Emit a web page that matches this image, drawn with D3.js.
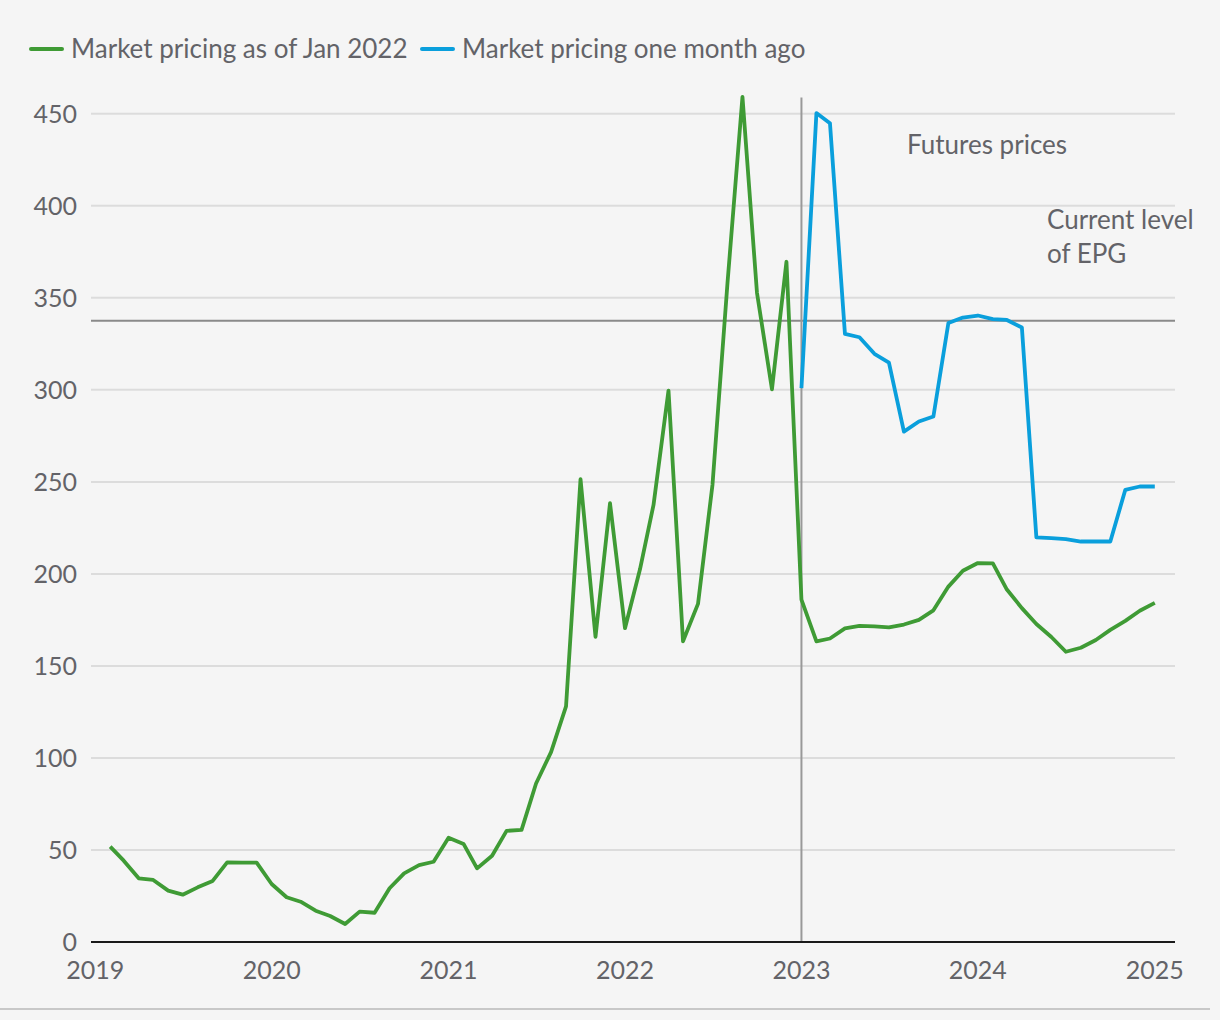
<!DOCTYPE html>
<html>
<head>
<meta charset="utf-8">
<script src="https://cdn.jsdelivr.net/npm/d3@7"></script>
<style>
  html, body { margin: 0; padding: 0; background: #f5f5f5; }
  text { font-family: Lato, "Open Sans", sans-serif; }
</style>
</head>
<body>
<div id="chart"></div>
<script>
var W = 1220, H = 1020;

// months since Jan 2019 (1 = Feb 2019)
var greenMonths = d3.range(1, 73);
var greenValues = [
  51.8, 44.2, 34.6, 33.7, 27.9, 25.7, 29.7, 33.2, 43.3, 43.1, 43.1,
  31.5, 24.3, 21.9, 17.0, 14.1, 9.8, 16.5, 15.9, 29.2, 37.3, 41.8, 43.6,
  56.7, 53.3, 40.0, 46.9, 60.4, 60.9, 86.1, 103.2, 128.0, 251.5, 165.8, 238.4, 170.5,
  202.5, 237.5, 299.6, 163.4, 183.7, 248.5, 358, 459.2, 352.8, 300.3, 369.6, 186,
  163.4, 164.9, 170.4, 171.8, 171.5, 170.9, 172.5, 175.0, 180.2, 193.1, 201.7, 205.9,
  205.7, 191.5, 181.4, 172.8, 165.7, 157.7, 159.9, 164.1, 169.6, 174.5, 180.0, 184.3
];
var blueMonths = d3.range(48, 73);
var blueValues = [
  300.9, 450.4, 444.9, 330.4, 328.6, 319.6, 314.8, 277.3, 282.8, 285.5, 336.3, 339.3,
  340.4, 338.4, 338.0, 333.9, 219.9, 219.4, 218.9, 217.6, 217.6, 217.6, 245.7, 247.5, 247.5
];
var epgLevel = 337.5;
var futuresStart = new Date(2023, 0, 1);
var yTicks = [0, 50, 100, 150, 200, 250, 300, 350, 400, 450];
var xTickYears = [2019, 2020, 2021, 2022, 2023, 2024, 2025];

var green = "#3f9b35";
var blue = "#0a9fdc";
var textGrey = "#636368";

var plotLeft = 91, plotRight = 1175;

var x = d3.scaleTime()
  .domain([new Date(2019, 0, 1), new Date(2025, 0, 1)])
  .range([95.2, 1154.8]);
var y = d3.scaleLinear().domain([0, 450]).range([942, 113.8]);

var svg = d3.select("#chart").append("svg")
  .attr("width", W)
  .attr("height", H);

svg.append("rect")
  .attr("width", W)
  .attr("height", H)
  .attr("fill", "#f5f5f5");

// gridlines
svg.append("g").selectAll("line")
  .data(yTicks.filter(d => d > 0))
  .enter()
  .append("line")
  .attr("x1", plotLeft)
  .attr("x2", plotRight)
  .attr("y1", d => y(d))
  .attr("y2", d => y(d))
  .attr("stroke", "#dcdcdc")
  .attr("stroke-width", 2);

// y tick labels
svg.append("g").selectAll("text")
  .data(yTicks)
  .enter()
  .append("text")
  .attr("x", 77)
  .attr("y", d => y(d))
  .attr("dy", "0.36em")
  .attr("text-anchor", "end")
  .style("font-size", "25px")
  .attr("fill", textGrey)
  .text(d => d);

// x tick labels
svg.append("g").selectAll("text")
  .data(xTickYears)
  .enter()
  .append("text")
  .attr("x", d => x(new Date(d, 0, 1)))
  .attr("y", 979)
  .attr("text-anchor", "middle")
  .style("font-size", "25px")
  .attr("fill", textGrey)
  .text(d => d);

// EPG level line
svg.append("line")
  .attr("x1", plotLeft)
  .attr("x2", plotRight)
  .attr("y1", y(epgLevel))
  .attr("y2", y(epgLevel))
  .attr("stroke", "#8a8a8a")
  .attr("stroke-width", 2);

// futures divider
svg.append("line")
  .attr("x1", x(futuresStart))
  .attr("x2", x(futuresStart))
  .attr("y1", 97.5)
  .attr("y2", y(0))
  .attr("stroke", "#999")
  .attr("stroke-width", 2);

var line = d3.line()
  .x(d => x(new Date(2019, d[0], 1)))
  .y(d => y(d[1]));

svg.append("path")
  .datum(d3.zip(greenMonths, greenValues))
  .attr("d", line)
  .attr("fill", "none")
  .attr("stroke", green)
  .attr("stroke-width", 3.8)
  .attr("stroke-linejoin", "round");

svg.append("path")
  .datum(d3.zip(blueMonths, blueValues))
  .attr("d", line)
  .attr("fill", "none")
  .attr("stroke", blue)
  .attr("stroke-width", 3.8)
  .attr("stroke-linejoin", "round");

// x axis line
svg.append("line")
  .attr("x1", plotLeft)
  .attr("x2", plotRight)
  .attr("y1", y(0))
  .attr("y2", y(0))
  .attr("stroke", "#1a1a1a")
  .attr("stroke-width", 2);

// bottom rule
svg.append("line")
  .attr("x1", 0)
  .attr("x2", 1210)
  .attr("y1", 1009)
  .attr("y2", 1009)
  .attr("stroke", "#c8c8c8")
  .attr("stroke-width", 2);

// annotations
svg.append("text")
  .attr("x", 907)
  .attr("y", 154)
  .style("font-size", "26px")
  .attr("fill", textGrey)
  .text("Futures prices");

var epgText = svg.append("text")
  .attr("x", 1047)
  .attr("y", 229)
  .style("font-size", "26px")
  .attr("fill", textGrey);
epgText.append("tspan").attr("x", 1047).text("Current level");
epgText.append("tspan").attr("x", 1047).attr("dy", 34).text("of EPG");

// legend
var legendItems = [
  {label: "Market pricing as of Jan 2022", color: green, x: 31},
  {label: "Market pricing one month ago", color: blue, x: 422}
];
var legend = svg.append("g").selectAll("g")
  .data(legendItems)
  .enter()
  .append("g")
  .attr("transform", d => "translate(" + d.x + ",49)");
legend.append("line")
  .attr("x1", 0)
  .attr("x2", 31)
  .attr("stroke", d => d.color)
  .attr("stroke-width", 4)
  .attr("stroke-linecap", "round");
legend.append("text")
  .attr("x", 40)
  .attr("dy", "0.36em")
  .style("font-size", "26px")
  .attr("fill", textGrey)
  .text(d => d.label);
</script>
</body>
</html>
